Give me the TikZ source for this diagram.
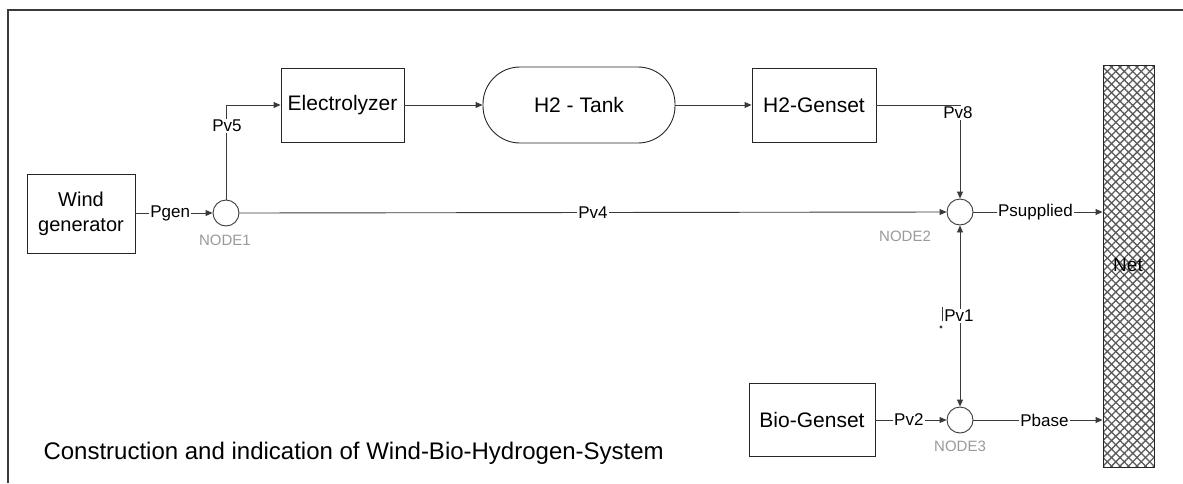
\documentclass[tikz,border=0pt]{standalone}
\usepackage{fontspec}
\setmainfont{Liberation Sans}
\usetikzlibrary{arrows.meta,patterns.meta}
\definecolor{ln}{HTML}{3A3A3A}
\definecolor{hatch}{HTML}{5A5A5A}
\definecolor{nodegray}{HTML}{9A9A9A}
\begin{document}
\begin{tikzpicture}[x=1pt,y=-1pt,
  box/.style={draw=black!85,line width=0.9pt,inner sep=0pt,fill=white},
  conn/.style={draw=ln,line width=0.9pt},
  arr/.style={conn,-{Triangle[length=7pt,width=6pt]}},
  junction/.style={circle,draw=ln,line width=0.9pt,minimum size=26pt,inner sep=0pt,fill=white},
  lbl/.style={font=\fontsize{17}{19}\selectfont,fill=white,inner sep=1pt},
  nlbl/.style={font=\fontsize{15}{17}\selectfont,text=nodegray,inner sep=0pt},
  btext/.style={font=\fontsize{21}{24}\selectfont}]
\useasboundingbox (0,0) rectangle (1183,483);
\fill[white] (0,0) rectangle (1183,483);
% frame
\draw[line width=2pt,ln] (8,483) -- (8,10) -- (1183,10);
% Net
\fill[pattern={Lines[angle=45,distance=6pt,line width=1.3pt]},pattern color=hatch] (1103,65) rectangle (1154,467);
\fill[pattern={Lines[angle=-45,distance=6pt,line width=1.3pt]},pattern color=hatch] (1103,65) rectangle (1154,467);
\node[draw=black!85,line width=0.9pt,minimum width=51pt,minimum height=402pt,inner sep=0pt] (net) at (1128.5,266) {};
\node[font=\fontsize{19}{21}\selectfont] (netl) at (1128,265) {Net};
% boxes
\node[box,minimum width=108pt,minimum height=79pt,align=center,font=\fontsize{20}{25}\selectfont] (wind) at (81,213.5) {Wind\\generator};
\node[box,minimum width=123pt,minimum height=74pt,btext] (elec) at (342.5,105) {Electrolyzer};
\node[box,rounded corners=37pt,minimum width=192pt,minimum height=76pt,btext] (tank) at (579,105) {H2 - Tank};
\node[box,minimum width=124pt,minimum height=74pt,btext] (h2g) at (814,105) {H2-Genset};
\node[box,minimum width=126pt,minimum height=73pt,btext] (bio) at (812,419.5) {Bio-Genset};
% junctions
\node[junction] (n1) at (226,213) {};
\node[junction] (n2) at (960,212) {};
\node[junction] (n3) at (960,420) {};
\node[nlbl] (n1l) at (225,240) {NODE1};
\node[nlbl] (n2l) at (905,236) {NODE2};
\node[nlbl] (n3l) at (960,446) {NODE3};
% connectors
\coordinate (c5) at (226,105);
\coordinate (c8) at (960,105);
\draw[arr] (wind.east |- n1) -- (n1.west) node[lbl,pos=0.45] (pgen) {Pgen};
\draw[arr] (n1.north) -- (c5) -- (elec.west);
\node[lbl] (pv5) at (227,126) {Pv5};
\draw[arr] (elec.east) -- (tank.west);
\draw[arr] (tank.east) -- (h2g.west);
\draw[arr] (h2g.east) -- (c8) -- (n2.north);
\node[lbl] (pv8) at (958,113) {Pv8};
\draw[arr] (n1.east) -- (n2.west) node[lbl,pos=0.5] (pv4) {Pv4};
\draw[arr] (n2.east) -- (net.west |- n2) node[lbl,pos=0.48] (psup) {Psupplied};
\coordinate (m1) at (960,316);
\draw[arr] (m1) -- (n2.south);
\draw[arr] (m1) -- (n3.north);
\node[lbl] (pv1) at (959,316) {Pv1};
\draw[ln,line width=1pt] (942,307) -- (942,321);
\fill[ln] (941,327) circle (1.6pt);
\draw[arr] (bio.east |- n3) -- (n3.west) node[lbl,pos=0.47] (pv2) {Pv2};
\draw[arr] (n3.east) -- (net.west |- n3) node[lbl,pos=0.55] (pbase) {Pbase};
% caption
\node[anchor=west,font=\fontsize{24}{27}\selectfont] (cap) at (40,453) {Construction and indication of Wind-Bio-Hydrogen-System};
\end{tikzpicture}
\end{document}
